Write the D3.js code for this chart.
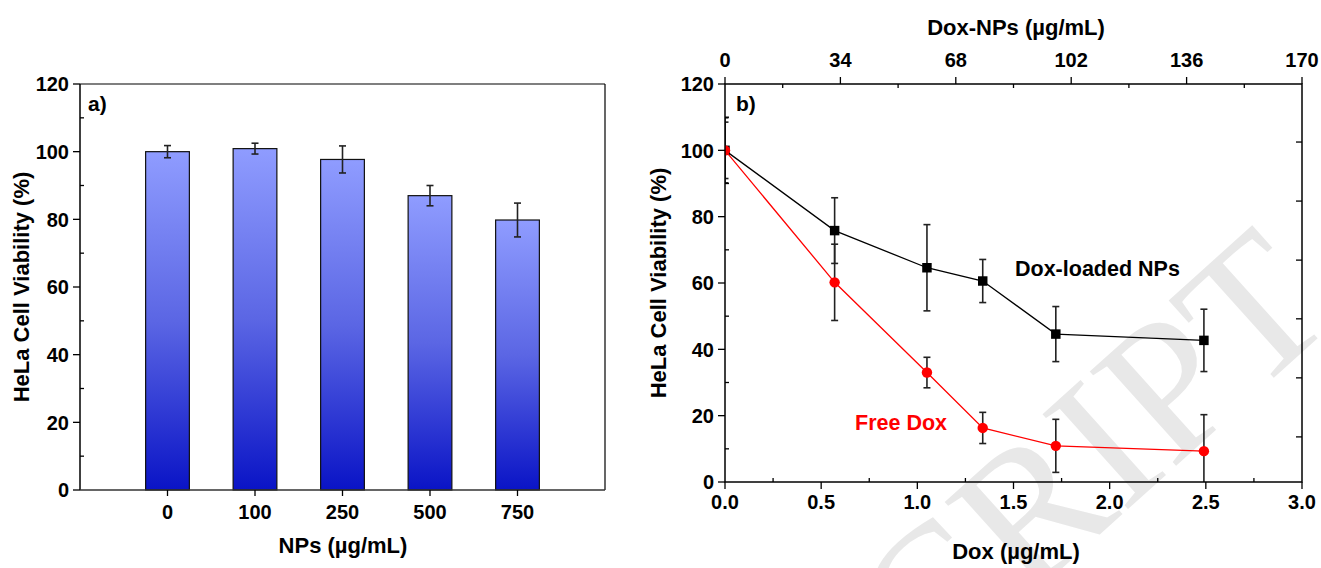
<!DOCTYPE html>
<html>
<head>
<meta charset="utf-8">
<script src="https://cdn.jsdelivr.net/npm/d3@7"></script>
<style>
body{margin:0;background:#fff;}
svg text{font-family:"Liberation Sans",Arial,sans-serif;font-weight:bold;}
</style>
</head>
<body>
<svg id="chart" width="1321" height="568"></svg>
<script>
// panel a) - blank NPs
var npCats = ["0", "100", "250", "500", "750"];
var npViab = [100, 100.9, 97.7, 87.0, 79.8];
var npErr = [1.8, 1.6, 4.0, 3.0, 5.0];

// panel b) - dox vs dox-loaded NPs
var doxX = [0, 0.57, 1.05, 1.34, 1.72, 2.49];
var loadedViab = [100, 75.8, 64.6, 60.6, 44.6, 42.7];
var loadedErr = [9.8, 9.9, 13.0, 6.5, 8.3, 9.4];
var freeViab = [100, 60.2, 33.0, 16.3, 10.9, 9.3];
var freeErr = [8.5, 11.5, 4.6, 4.7, 8.0, 11.0];

var yTicks = [0, 20, 40, 60, 80, 100, 120];
var yMinor = [10, 30, 50, 70, 90, 110];
var doxTicks = [0, 0.5, 1.0, 1.5, 2.0, 2.5, 3.0];
var doxMinor = [0.25, 0.75, 1.25, 1.75, 2.25, 2.75];
var npTicks = [0, 34, 68, 102, 136, 170];
var npMinor = [17, 51, 85, 119, 153];
var rightTicks = [13.6, 31.4, 49.2, 66.9, 84.7, 102.5];

var svg = d3.select("#chart");

// watermark
svg.append("text")
    .attr("transform", "translate(1340,318) rotate(-42)")
    .attr("text-anchor", "end")
    .style("font-family", "'Liberation Serif','DejaVu Serif',serif")
    .style("font-weight", "normal")
    .style("font-size", "195px")
    .attr("fill", "#e8e8e8")
    .text("ACCEPTED MANUSCRIPT");

function ticks(g, scale, vals, dir, len, horizontal){
    g.selectAll(null).data(vals).enter().append("line")
        .attr("x1", function(d){ return horizontal ? scale(d) : 0; })
        .attr("x2", function(d){ return horizontal ? scale(d) : dir*len; })
        .attr("y1", function(d){ return horizontal ? 0 : scale(d); })
        .attr("y2", function(d){ return horizontal ? dir*len : scale(d); })
        .attr("stroke", "#000").attr("stroke-width", 1.3);
}

// ---------- panel a ----------
var xa = d3.scaleLinear().domain([-1, 5]).range([80, 605]);
var ya = d3.scaleLinear().domain([0, 120]).range([490, 84]);

var grad = svg.append("defs").append("linearGradient")
    .attr("id", "barGrad").attr("x1", 0).attr("y1", 0).attr("x2", 0).attr("y2", 1);
grad.append("stop").attr("offset", "0%").attr("stop-color", "#8f9cff");
grad.append("stop").attr("offset", "50%").attr("stop-color", "#5b66e4");
grad.append("stop").attr("offset", "100%").attr("stop-color", "#0a14c6");

var pa = svg.append("g");
var bw = (xa(1) - xa(0)) * 0.5;
pa.selectAll(".bar").data(npViab).enter().append("rect")
    .attr("x", function(d, i){ return xa(i) - bw/2; })
    .attr("y", function(d){ return ya(d); })
    .attr("width", bw)
    .attr("height", function(d){ return ya(0) - ya(d); })
    .attr("fill", "url(#barGrad)")
    .attr("stroke", "#111").attr("stroke-width", 1.2);

var eba = pa.selectAll(".eb").data(npViab).enter().append("g").attr("stroke", "#222").attr("stroke-width", 1.6);
eba.append("line")
    .attr("x1", function(d, i){ return xa(i); }).attr("x2", function(d, i){ return xa(i); })
    .attr("y1", function(d, i){ return ya(d + npErr[i]); }).attr("y2", function(d, i){ return ya(d - npErr[i]); });
eba.append("line")
    .attr("x1", function(d, i){ return xa(i) - 3.5; }).attr("x2", function(d, i){ return xa(i) + 3.5; })
    .attr("y1", function(d, i){ return ya(d + npErr[i]); }).attr("y2", function(d, i){ return ya(d + npErr[i]); });
eba.append("line")
    .attr("x1", function(d, i){ return xa(i) - 3.5; }).attr("x2", function(d, i){ return xa(i) + 3.5; })
    .attr("y1", function(d, i){ return ya(d - npErr[i]); }).attr("y2", function(d, i){ return ya(d - npErr[i]); });

// frame a
pa.append("line").attr("x1", 80).attr("x2", 605).attr("y1", 84).attr("y2", 84).attr("stroke", "#000").attr("stroke-width", 1.2);
pa.append("line").attr("x1", 605).attr("x2", 605).attr("y1", 84).attr("y2", 490).attr("stroke", "#000").attr("stroke-width", 1.2);
pa.append("line").attr("x1", 80).attr("x2", 80).attr("y1", 84).attr("y2", 490).attr("stroke", "#000").attr("stroke-width", 1.5);
pa.append("line").attr("x1", 80).attr("x2", 605).attr("y1", 490).attr("y2", 490).attr("stroke", "#333").attr("stroke-width", 1.5);

var ayG = pa.append("g").attr("transform", "translate(80,0)");
ticks(ayG, ya, yTicks, -1, 7, false);
ticks(ayG, ya, yMinor, 1, 4, false);
ayG.selectAll(null).data(yTicks).enter().append("text")
    .attr("x", -11).attr("y", function(d){ return ya(d); }).attr("dy", "0.36em")
    .attr("text-anchor", "end").style("font-size", "20px").text(function(d){ return d; });

var axG = pa.append("g").attr("transform", "translate(0,490)");
ticks(axG, xa, d3.range(npCats.length), 1, 6, true);
axG.selectAll(null).data(npCats).enter().append("text")
    .attr("x", function(d, i){ return xa(i); }).attr("y", 29)
    .attr("text-anchor", "middle").style("font-size", "20px").text(function(d){ return d; });

pa.append("text").attr("x", 343).attr("y", 553).attr("text-anchor", "middle")
    .style("font-size", "22px").text("NPs (\u00b5g/mL)");
pa.append("text").attr("transform", "translate(29,287) rotate(-90)").attr("text-anchor", "middle")
    .style("font-size", "22px").text("HeLa Cell Viability (%)");
pa.append("text").attr("x", 88).attr("y", 111).style("font-size", "21px").text("a)");

// ---------- panel b ----------
var xb = d3.scaleLinear().domain([0, 3]).range([725, 1302]);
var xt = d3.scaleLinear().domain([0, 170]).range([725, 1302]);
var yb = d3.scaleLinear().domain([0, 120]).range([482, 84]);

svg.append("clipPath").attr("id", "plotb").append("rect")
    .attr("x", 725).attr("y", 84).attr("width", 577).attr("height", 398);

var pb = svg.append("g");
var data = pb.append("g").attr("clip-path", "url(#plotb)");

function series(vals, errs, color, shape){
    var pts = doxX.map(function(x, i){ return {x: x, y: vals[i], e: errs[i]}; });
    data.append("path").datum(pts)
        .attr("d", d3.line().x(function(d){ return xb(d.x); }).y(function(d){ return yb(d.y); }))
        .attr("fill", "none").attr("stroke", color).attr("stroke-width", 1.3);
    var eb = data.selectAll(null).data(pts).enter().append("g").attr("stroke", "#222").attr("stroke-width", 1.6);
    eb.append("line").attr("x1", function(d){ return xb(d.x); }).attr("x2", function(d){ return xb(d.x); })
        .attr("y1", function(d){ return yb(d.y + d.e); }).attr("y2", function(d){ return yb(d.y - d.e); });
    [1, -1].forEach(function(s){
        eb.append("line").attr("x1", function(d){ return xb(d.x) - 3.5; }).attr("x2", function(d){ return xb(d.x) + 3.5; })
            .attr("y1", function(d){ return yb(d.y + s*d.e); }).attr("y2", function(d){ return yb(d.y + s*d.e); });
    });
    data.selectAll(null).data(pts).enter().append("path")
        .attr("transform", function(d){ return "translate(" + xb(d.x) + "," + yb(d.y) + ")"; })
        .attr("d", d3.symbol().type(shape).size(shape === d3.symbolSquare ? 90 : 85))
        .attr("fill", color);
}
series(loadedViab, loadedErr, "#000", d3.symbolSquare);
series(freeViab, freeErr, "#ff0000", d3.symbolCircle);

// frame b
pb.append("rect").attr("x", 725).attr("y", 84).attr("width", 577).attr("height", 398)
    .attr("fill", "none").attr("stroke", "#000").attr("stroke-width", 1.5);

var byG = pb.append("g").attr("transform", "translate(725,0)");
ticks(byG, yb, yTicks, -1, 7, false);
ticks(byG, yb, yMinor, 1, 4, false);
byG.selectAll(null).data(yTicks).enter().append("text")
    .attr("x", -11).attr("y", function(d){ return yb(d); }).attr("dy", "0.36em")
    .attr("text-anchor", "end").style("font-size", "20px").text(function(d){ return d; });

var brG = pb.append("g").attr("transform", "translate(1302,0)");
ticks(brG, yb, rightTicks, -1, 6, false);

var bxG = pb.append("g").attr("transform", "translate(0,482)");
ticks(bxG, xb, doxTicks, 1, 7, true);
ticks(bxG, xb, doxMinor, -1, 4, true);
bxG.selectAll(null).data(doxTicks).enter().append("text")
    .attr("x", function(d){ return xb(d); }).attr("y", 27)
    .attr("text-anchor", "middle").style("font-size", "20px").text(function(d){ return d.toFixed(1); });

var btG = pb.append("g").attr("transform", "translate(0,84)");
ticks(btG, xt, npTicks, -1, 7, true);
ticks(btG, xt, npMinor, 1, 4, true);
btG.selectAll(null).data(npTicks).enter().append("text")
    .attr("x", function(d){ return xt(d); }).attr("y", -17)
    .attr("text-anchor", "middle").style("font-size", "20px").text(function(d){ return d; });

pb.append("text").attr("x", 1016).attr("y", 559).attr("text-anchor", "middle")
    .style("font-size", "22px").text("Dox (\u00b5g/mL)");
pb.append("text").attr("x", 1016).attr("y", 35).attr("text-anchor", "middle")
    .style("font-size", "22px").text("Dox-NPs (\u00b5g/mL)");
pb.append("text").attr("transform", "translate(666,283) rotate(-90)").attr("text-anchor", "middle")
    .style("font-size", "22px").text("HeLa Cell Viability (%)");
pb.append("text").attr("x", 736).attr("y", 111).style("font-size", "21px").text("b)");
pb.append("text").attr("x", 1015).attr("y", 276).style("font-size", "21.5px").text("Dox-loaded NPs");
pb.append("text").attr("x", 855).attr("y", 430).style("font-size", "21.5px").attr("fill", "#ff0000").text("Free Dox");
</script>
</body>
</html>
